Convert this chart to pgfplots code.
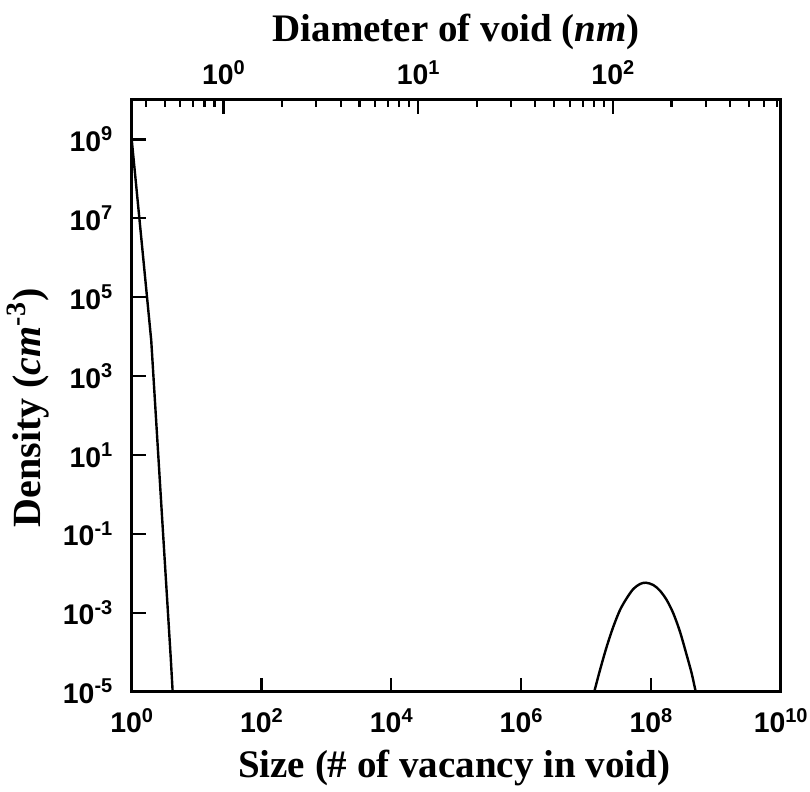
\documentclass[border=0pt]{standalone}
\usepackage{fontspec}
\setmainfont{Liberation Serif}
\setsansfont{Liberation Sans}
\usepackage{pgfplots}
\pgfplotsset{compat=1.18}
\newcommand{\pw}[1]{10\raisebox{5.4pt}{\fontsize{10}{10}\selectfont #1}}
\newcommand{\tickfont}{\fontsize{14.2}{15}\selectfont\sffamily\bfseries}
\newcommand{\titlefont}{\fontsize{19.5}{22}\selectfont\rmfamily\bfseries}
\begin{document}
\begin{tikzpicture}
\path[use as bounding box] (-65.85pt,-50.25pt) rectangle (339.15pt,345.75pt);
\begin{axis}[
  at={(0,0)}, anchor=south west,
  scale only axis, width=324.5pt, height=295.75pt,
  xmode=log, ymode=log,
  xmin=1, xmax=1e10, ymin=1e-5, ymax=1e10,
  xtick={1,1e2,1e4,1e6,1e8,1e10},
  xticklabels={\pw{0},\pw{2},\pw{4},\pw{6},\pw{8},\pw{10}},
  ytick={1e-5,1e-3,1e-1,1e1,1e3,1e5,1e7,1e9},
  yticklabels={\pw{-5},\pw{-3},\pw{-1},\pw{1},\pw{3},\pw{5},\pw{7},\pw{9}},
  xtick pos=left, ytick pos=left,
  tick align=inside,
  major tick length=7pt, minor tick length=0pt,
  tick style={black, line width=1.1pt},
  axis line style={line width=1.5pt},
  tick label style={font=\tickfont},
  xticklabel style={anchor=base, yshift=-20.75pt, inner sep=0pt},
  yticklabel style={anchor=east, xshift=-9.5pt, inner sep=0pt},
  xlabel={Size (\# of vacancy in void)},
  ylabel={Density (\textit{cm}\textsuperscript{-3})},
  xlabel style={font=\titlefont, at={(axis description cs:0.497,-0.1462)}, anchor=base},
  ylabel style={font=\fontsize{20}{22}\selectfont\rmfamily\bfseries, at={(axis description cs:-0.1402,0.4793)}, anchor=base},
]
\addplot[black, line width=1.2pt] coordinates {
  (1,1e9) (2,8e3) (3,0.15) (4,7e-5) (5,1e-7)
};
\addplot[black, line width=1.2pt, smooth] coordinates {
  (1.2e7,5e-6) (1.343e7,1e-5) (1.644e7,3.51e-5) (2.084e7,1.368e-4) (2.636e7,4.40e-4)
  (3.342e7,1.167e-3) (4.236e7,2.312e-3) (5.358e7,3.98e-3) (6.792e7,5.32e-3)
  (8.395e7,5.74e-3) (1.089e8,5.02e-3) (1.380e8,3.60e-3) (1.750e8,2.094e-3)
  (2.213e8,9.62e-4) (2.805e8,3.29e-4) (3.556e8,8.43e-5) (4.246e8,2.90e-5)
  (4.898e8,1e-5) (5.43e8,5e-6)
};
\end{axis}
\begin{axis}[
  at={(0,0)}, anchor=south west,
  scale only axis, width=324.5pt, height=295.75pt,
  xmode=log, xmin=0.338, xmax=728.2, ymin=0, ymax=1,
  axis x line*=top, axis y line=none,
  xtick={1,10,100}, xticklabels={\pw{0},\pw{1},\pw{2}},
  minor xtick={0.4,0.5,0.6,0.7,0.8,0.9,2,3,4,5,6,7,8,9,20,30,40,50,60,70,80,90,200,300,400,500,600,700},
  tick align=inside, major tick length=7pt, minor tick length=3.5pt,
  tick style={black, line width=1.1pt},
  axis line style={line width=1.5pt},
  xticklabel style={font=\tickfont, anchor=base, yshift=7.5pt, inner sep=0pt},
  xlabel={Diameter of void (\textit{nm})},
  xlabel style={font=\titlefont, at={(axis description cs:0.5,1.0986)}, anchor=base},
]
\end{axis}
\end{tikzpicture}
\end{document}
